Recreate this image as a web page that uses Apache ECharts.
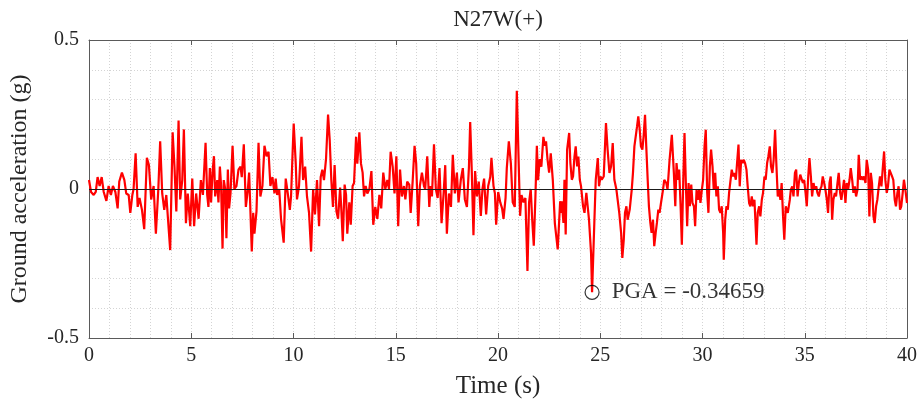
<!DOCTYPE html>
<html>
<head>
<meta charset="utf-8">
<script src="https://cdn.jsdelivr.net/npm/echarts@6/dist/echarts.min.js"></script>
<style>html,body{margin:0;padding:0;background:#fff;}#c{width:922px;height:405px;}</style>
</head>
<body>
<div id="c"></div>
<script>
// Time (s) of each read point
const time = [
0.00,0.10,0.23,0.33,0.42,0.52,0.62,0.72,0.85,0.96,1.07,1.17,1.29,1.40,1.48,1.61,1.73,1.82,1.94,2.02,2.12,2.18,2.28,2.38,2.47,2.59,2.70,2.83,2.93,3.04,3.16,3.27,3.39,3.48,3.58,3.68,3.78,3.87,3.97,4.09,4.18,4.27,4.38,4.46,4.56,4.64,4.74,4.83,4.95,5.05,5.14,5.24,5.36,5.47,5.57,5.70,
5.78,5.84,5.91,5.97,6.04,6.11,6.17,6.27,6.33,6.40,6.46,6.53,6.59,6.66,6.72,6.79,6.85,6.92,7.02,7.11,7.21,7.31,7.41,7.47,7.57,7.67,7.77,7.83,7.96,8.03,8.09,8.19,8.29,8.38,8.48,8.58,8.68,8.78,8.87,8.97,9.07,9.13,9.20,9.30,9.39,9.52,9.62,9.72,9.82,9.88,9.95,10.01,10.11,10.17,10.27,10.39,10.47,10.57,10.66,10.76,10.86,10.96,11.05,11.15,11.25,
11.33,11.41,11.49,11.59,11.69,11.77,11.85,11.93,12.01,12.10,12.18,12.28,12.34,12.41,12.50,12.57,12.63,12.73,12.80,12.89,12.96,13.06,13.12,13.22,13.30,13.38,13.45,13.53,13.61,13.71,13.81,13.90,14.00,14.10,14.20,14.29,14.39,14.49,14.59,14.67,14.75,14.85,14.94,15.03,15.12,15.21,15.30,15.40,15.47,15.56,15.66,15.73,15.83,15.92,16.00,16.10,16.18,16.28,16.38,16.44,16.54,16.64,16.70,16.77,16.87,16.96,17.05,
17.14,17.24,17.34,17.42,17.50,17.60,17.70,17.79,17.89,17.99,18.07,18.18,18.28,18.38,18.48,18.58,18.64,18.72,18.80,18.88,18.97,19.06,19.16,19.24,19.32,19.42,19.52,19.62,19.68,19.78,19.85,19.91,20.01,20.11,20.20,20.27,20.37,20.43,20.53,20.63,20.72,20.82,20.92,21.02,21.08,21.15,21.25,21.34,21.44,21.52,21.60,21.67,21.75,21.83,21.90,21.96,22.04,22.12,22.22,22.29,22.35,22.42,22.50,22.58,22.68,22.78,
22.92,23.04,23.09,23.12,23.20,23.25,23.31,23.38,23.48,23.54,23.61,23.67,23.74,23.80,23.87,23.93,24.00,24.06,24.16,24.23,24.32,24.39,24.45,24.55,24.60,24.71,24.78,24.88,24.94,25.01,25.07,25.17,25.28,25.36,25.45,25.53,25.61,25.69,25.79,25.85,25.93,26.02,26.08,26.15,26.21,26.28,26.34,26.44,26.54,26.60,26.67,26.73,26.80,26.86,26.93,26.99,27.06,27.12,27.19,27.25,27.32,27.38,27.45,27.51,27.58,27.64,27.71,27.77,27.84,27.90,27.97,28.07,28.13,28.23,28.29,28.39,
28.50,28.60,28.67,28.73,28.80,28.86,28.93,28.99,29.06,29.12,29.19,29.25,29.32,29.38,29.45,29.51,29.58,29.64,29.71,29.77,29.84,29.90,29.97,30.03,30.10,30.16,30.23,30.29,30.36,30.42,30.49,30.55,30.62,30.68,30.75,30.81,30.88,30.94,31.01,31.04,31.11,31.17,31.24,31.30,31.37,31.43,31.50,31.56,31.63,31.69,31.76,31.82,31.89,31.95,32.02,32.08,32.15,32.21,32.28,32.34,32.41,32.47,32.54,32.64,32.70,32.77,32.83,32.90,32.96,33.03,33.09,33.16,33.22,33.29,33.35,33.42,33.48,33.55,33.61,33.68,33.74,33.81,33.87,33.94,34.00,34.07,34.17,
34.27,34.32,34.39,34.45,34.52,34.58,34.65,34.71,34.78,34.84,34.91,34.97,35.04,35.10,35.17,35.23,35.30,35.36,35.43,35.49,35.56,35.62,35.69,35.75,35.82,35.88,35.95,36.01,36.08,36.14,36.21,36.27,36.34,36.40,36.47,36.53,36.60,36.66,36.73,36.79,36.86,36.92,36.99,37.05,37.12,37.19,37.25,37.32,37.38,37.45,37.51,37.58,37.64,37.71,37.77,37.84,37.90,37.97,38.03,38.10,38.16,38.23,38.29,38.36,38.42,38.49,38.55,38.62,38.68,38.75,38.81,38.88,38.94,39.01,39.07,39.14,39.20,39.27,39.33,39.40,39.46,39.53,39.59,39.66,39.72,39.79,39.85,39.92,40.00
];
// Ground acceleration (g) at each time
const accel = [
0.03,-0.01,-0.02,-0.01,0.04,0.01,0.04,-0.01,-0.04,0.01,-0.02,0.01,-0.01,-0.065,0.025,0.055,0.03,-0.015,-0.02,-0.08,-0.02,0.0,0.12,-0.06,-0.03,-0.07,-0.135,0.105,0.08,-0.035,0.01,-0.15,0.0,0.16,-0.015,-0.07,-0.02,-0.025,-0.205,0.19,0.075,-0.075,0.23,-0.035,0.03,0.2,-0.115,-0.015,-0.125,0.035,-0.125,-0.015,-0.10,0.03,-0.02,0.155,
-0.02,-0.06,0.07,-0.045,0.055,0.11,-0.025,0.03,-0.045,0.075,0.01,-0.20,0.03,0.0,-0.165,0.065,-0.065,-0.015,0.145,0.0,0.01,0.065,0.075,0.04,0.15,-0.06,0.0,0.055,-0.21,-0.08,-0.15,-0.075,0.155,-0.025,0.01,0.145,0.11,0.125,0.01,0.04,-0.015,0.035,-0.02,0.0,-0.10,-0.18,0.035,-0.015,-0.07,-0.025,0.11,0.22,0.085,-0.035,0.01,0.175,0.03,0.075,-0.025,-0.08,-0.21,0.0,-0.085,0.03,-0.125,
0.04,0.065,0.03,0.10,0.25,0.165,0.03,-0.06,0.08,-0.075,-0.10,0.005,-0.07,-0.175,0.015,-0.02,-0.15,-0.045,-0.12,0.01,0.02,0.175,0.085,0.19,0.085,0.055,-0.025,0.01,-0.015,0.0,0.06,-0.12,-0.06,-0.10,-0.02,-0.065,0.055,0.0,0.03,0.0,0.125,0.075,-0.015,0.11,-0.125,0.065,-0.025,0.01,-0.035,0.025,0.015,-0.08,0.03,0.145,0.085,-0.125,0.01,0.055,0.01,0.0,0.11,-0.06,0.01,-0.025,0.15,0.0,-0.03,
0.07,-0.115,-0.015,0.08,-0.15,-0.015,-0.06,0.115,-0.015,0.055,-0.045,0.03,0.07,-0.035,-0.06,0.075,0.225,0.055,-0.155,0.06,-0.025,0.025,-0.09,0.0,0.035,-0.085,0.01,0.04,0.105,0.01,-0.015,-0.12,-0.01,-0.045,-0.065,-0.10,-0.03,0.07,0.16,0.085,-0.045,-0.06,0.33,0.065,-0.09,-0.02,-0.045,-0.03,-0.275,-0.045,0.0,-0.10,-0.19,-0.025,0.145,0.03,0.10,0.075,0.175,0.145,0.16,0.10,0.055,0.12,0.03,-0.115,
-0.203,-0.041,-0.08,-0.041,-0.114,0.031,-0.153,0.132,0.188,0.087,0.031,0.042,0.109,0.143,0.076,0.109,0.031,0.009,-0.058,-0.08,-0.013,-0.019,-0.103,-0.215,-0.34659,-0.114,0.031,0.104,0.009,0.042,0.031,0.042,0.221,0.132,0.054,0.076,0.154,0.031,-0.002,-0.036,-0.08,-0.147,-0.231,-0.17,-0.08,-0.058,-0.103,-0.069,-0.002,0.054,0.143,0.143,0.21,0.244,0.199,0.143,0.132,0.177,0.249,0.143,0.031,-0.058,-0.114,-0.147,-0.103,-0.192,-0.147,-0.114,-0.069,-0.08,-0.047,-0.002,0.031,0.02,-0.002,0.098,
0.182,0.054,-0.058,0.087,0.031,0.065,-0.058,-0.187,0.031,0.188,0.009,-0.125,0.02,-0.058,0.015,-0.047,-0.058,-0.125,-0.002,-0.036,-0.002,-0.047,-0.002,0.031,0.143,0.199,-0.013,-0.08,0.076,0.132,0.076,-0.002,0.054,-0.025,0.009,-0.069,-0.08,-0.058,-0.147,-0.237,-0.103,-0.058,-0.069,-0.013,-0.013,0.065,0.042,0.054,0.031,0.087,0.149,0.009,0.098,0.087,0.098,0.087,0.065,0.009,-0.047,-0.058,-0.025,-0.058,-0.036,-0.187,-0.08,-0.058,-0.092,-0.036,-0.013,0.042,0.031,0.087,0.109,0.143,0.076,0.054,0.098,0.199,0.087,-0.025,-0.002,-0.036,0.02,-0.092,-0.17,-0.058,-0.08,
-0.036,-0.002,0.009,-0.025,0.054,0.065,-0.025,0.02,0.048,0.042,0.02,0.031,-0.013,-0.058,0.042,0.104,0.042,-0.025,0.02,-0.002,0.009,-0.013,-0.025,-0.002,0.009,0.042,0.02,-0.002,-0.036,-0.08,0.02,0.042,-0.103,-0.036,-0.013,-0.025,0.02,0.054,-0.013,-0.036,-0.002,0.031,-0.047,0.02,-0.002,0.031,0.07,0.031,-0.013,0.009,-0.025,-0.002,0.115,0.031,0.042,0.031,0.042,0.02,0.098,0.065,-0.092,0.054,0.02,-0.092,-0.114,-0.058,-0.036,0.009,0.042,0.009,0.065,0.126,0.031,-0.013,0.009,0.065,0.065,0.042,0.031,-0.036,-0.058,-0.013,0.009,-0.069,-0.058,-0.013,0.031,-0.002,-0.047
];
const xTicks = [0, 40, 5];      // min, max, step
const yTicks = [-0.5, 0.5, 0.5];
const pgaTime = 24.60;
const pgaValue = -0.34659;
const titleText = 'N27W(+)';
const xName = 'Time (s)';
const yName = 'Ground acceleration (g)';

const FONT = 'Liberation Serif';
const TXT = '#262626';
const BOX = '#5a5a5a';
const seriesData = time.map((t, i) => [t, accel[i]]);

const chart = echarts.init(document.getElementById('c'));
const gridLine = { show: true, lineStyle: { color: '#d4d4d4', type: [1, 2], width: 1 } };
chart.setOption({
  animation: false,
  grid: { left: 88, right: 15, top: 40, bottom: 67, containLabel: false },
  xAxis: [{
    type: 'value', min: xTicks[0], max: xTicks[1], interval: xTicks[2], position: 'bottom',
    name: xName, nameLocation: 'middle', nameGap: 36,
    nameTextStyle: { fontFamily: FONT, fontSize: 25, color: TXT },
    axisLine: { show: true, onZero: false, lineStyle: { color: BOX, width: 1 } },
    axisTick: { show: true, inside: true, length: 5, lineStyle: { color: BOX } },
    axisLabel: { fontFamily: FONT, fontSize: 20, color: TXT, margin: 8 },
    splitLine: gridLine,
    minorTick: { show: false, splitNumber: 5 },
    minorSplitLine: gridLine
  }, {
    type: 'value', min: xTicks[0], max: xTicks[1], interval: xTicks[2], position: 'top',
    name: titleText, nameLocation: 'middle', nameGap: 9,
    nameTextStyle: { fontFamily: FONT, fontSize: 23, color: TXT },
    axisLine: { show: true, onZero: false, lineStyle: { color: BOX, width: 1 } },
    axisTick: { show: true, inside: true, length: 5, lineStyle: { color: BOX } },
    axisLabel: { show: false }, splitLine: { show: false }
  }],
  yAxis: [{
    type: 'value', min: yTicks[0], max: yTicks[1], interval: yTicks[2], position: 'left',
    name: yName, nameLocation: 'middle', nameGap: 57,
    nameTextStyle: { fontFamily: FONT, fontSize: 24, color: TXT },
    axisLine: { show: true, onZero: false, lineStyle: { color: BOX, width: 1 } },
    axisTick: { show: true, inside: true, length: 5, lineStyle: { color: BOX } },
    axisLabel: { fontFamily: FONT, fontSize: 20, color: TXT, margin: 10 },
    splitLine: gridLine,
    minorTick: { show: false, splitNumber: 5 },
    minorSplitLine: gridLine
  }, {
    type: 'value', min: yTicks[0], max: yTicks[1], interval: yTicks[2], position: 'right',
    axisLine: { show: true, onZero: false, lineStyle: { color: BOX, width: 1 } },
    axisTick: { show: true, inside: true, length: 5, lineStyle: { color: BOX } },
    axisLabel: { show: false }, splitLine: { show: false }
  }],
  series: [{
    type: 'line', data: seriesData, showSymbol: false, symbol: 'none',
    lineStyle: { color: '#ff0000', width: 2.2 }, z: 3,
    markLine: {
      silent: true, symbol: 'none', label: { show: false },
      lineStyle: { color: '#1a1a1a', width: 1, type: 'solid' },
      data: [{ yAxis: 0 }]
    }
  }, {
    type: 'scatter', data: [[pgaTime, pgaValue]], symbol: 'circle', symbolSize: 14, z: 5,
    itemStyle: { color: 'rgba(0,0,0,0)', borderColor: '#000', borderWidth: 1.2 },
    label: {
      show: true, position: 'right', distance: 12,
      formatter: () => 'PGA = ' + pgaValue,
      fontFamily: FONT, fontSize: 23, color: '#000'
    }
  }]
});
</script>
</body>
</html>
